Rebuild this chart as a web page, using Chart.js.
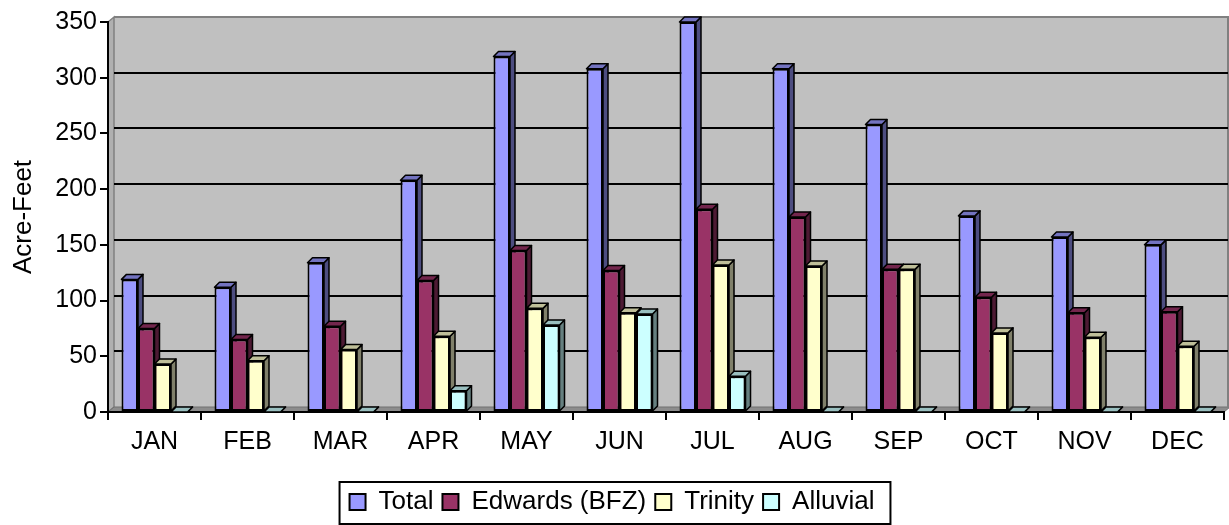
<!DOCTYPE html>
<html>
<head>
<meta charset="utf-8">
<script src="https://cdn.jsdelivr.net/npm/chart.js@4.4.1/dist/chart.umd.min.js"></script>
<style>
  html, body { margin: 0; padding: 0; background: #ffffff; }
  #wrap { width: 1229px; height: 525px; position: relative; }
</style>
</head>
<body>
<div id="wrap"><canvas id="chart"></canvas></div>
<script>
// data (acre-feet per month)
var months = ['JAN', 'FEB', 'MAR', 'APR', 'MAY', 'JUN', 'JUL', 'AUG', 'SEP', 'OCT', 'NOV', 'DEC'];
var total = [119, 112, 134, 208, 319, 308, 350, 308, 258, 176, 157, 150];
var edwards = [75, 65, 77, 118, 145, 127, 182, 175, 128, 103, 89, 90];
var trinity = [43, 46, 56, 68, 93, 89, 132, 131, 128, 71, 67, 59];
var alluvial = [0, 0, 0, 19, 78, 88, 32, 0, 0, 0, 0, 0];
var seriesNames = ['Total', 'Edwards (BFZ)', 'Trinity', 'Alluvial'];
var yTicks = [0, 50, 100, 150, 200, 250, 300, 350];

// colours: front, top, side
var fronts = ['#9999FF', '#993366', '#FFFFCC', '#CCFFFF'];
var tops = ['#7373C0', '#73264D', '#BFBF99', '#99BFBF'];
var sides = ['#4D4D80', '#4D1A33', '#80806A', '#668080'];

var FONT = 'Liberation Sans, Arial, sans-serif';
var DX = 5, DY = 5; // bar depth
var WX = 6, WY = 5; // wall depth
var LEG_PAD = 9;

// back wall, floor, side wall and back gridlines
var wallPlugin = {
  id: 'wall',
  beforeDraw: function(chart) {
    var ctx = chart.ctx, a = chart.chartArea, ys = chart.scales.y;
    ctx.save();
    // back wall
    ctx.fillStyle = '#C0C0C0';
    ctx.fillRect(a.left + WX, a.top - WY, a.right - a.left, a.bottom - a.top);
    // left wall
    ctx.beginPath();
    ctx.moveTo(a.left, a.bottom);
    ctx.lineTo(a.left, a.top);
    ctx.lineTo(a.left + WX, a.top - WY);
    ctx.lineTo(a.left + WX, a.bottom - WY);
    ctx.closePath();
    ctx.fillStyle = '#B0B0B0';
    ctx.fill();
    ctx.strokeStyle = '#808080';
    ctx.lineWidth = 1.5;
    ctx.stroke();
    // floor
    ctx.beginPath();
    ctx.moveTo(a.left, a.bottom);
    ctx.lineTo(a.right, a.bottom);
    ctx.lineTo(a.right + WX, a.bottom - WY);
    ctx.lineTo(a.left + WX, a.bottom - WY);
    ctx.closePath();
    ctx.fillStyle = '#8C8C8C';
    ctx.fill();
    ctx.strokeStyle = '#707070';
    ctx.lineWidth = 1;
    ctx.stroke();
    // wall outline
    ctx.strokeStyle = '#808080';
    ctx.lineWidth = 2;
    ctx.beginPath();
    ctx.moveTo(a.left + WX, a.top - WY);
    ctx.lineTo(a.right + WX - 2, a.top - WY);
    ctx.lineTo(a.right + WX - 2, a.bottom - WY);
    ctx.stroke();
    // gridlines on the back wall
    ctx.strokeStyle = '#000000';
    ctx.lineWidth = 2;
    for (var i = 1; i < yTicks.length - 1; i++) {
      var y = Math.round(ys.getPixelForValue(yTicks[i]) - WY);
      ctx.beginPath();
      ctx.moveTo(a.left + WX, y);
      ctx.lineTo(a.right + WX - 2, y);
      ctx.stroke();
    }
    ctx.restore();
  },
  // top and side faces of each bar, behind the front faces
  beforeDatasetsDraw: function(chart) {
    var ctx = chart.ctx;
    ctx.save();
    ctx.strokeStyle = '#000000';
    ctx.lineWidth = 1.5;
    ctx.lineJoin = 'round';
    for (var i = 0; i < months.length; i++) {
      for (var d = 0; d < chart.data.datasets.length; d++) {
        var bar = chart.getDatasetMeta(d).data[i];
        var p = bar.getProps(['x', 'y', 'base', 'width'], true);
        var x0 = p.x - p.width / 2, x1 = p.x + p.width / 2;
        // side
        ctx.beginPath();
        ctx.moveTo(x1, p.y);
        ctx.lineTo(x1 + DX, p.y - DY);
        ctx.lineTo(x1 + DX, p.base - DY);
        ctx.lineTo(x1, p.base);
        ctx.closePath();
        ctx.fillStyle = sides[d];
        ctx.fill();
        ctx.stroke();
        // top
        ctx.beginPath();
        ctx.moveTo(x0, p.y);
        ctx.lineTo(x0 + DX, p.y - DY);
        ctx.lineTo(x1 + DX, p.y - DY);
        ctx.lineTo(x1, p.y);
        ctx.closePath();
        ctx.fillStyle = tops[d];
        ctx.fill();
        ctx.stroke();
      }
    }
    ctx.restore();
  },
  // frame round the legend
  afterDraw: function(chart) {
    var hb = chart.legend.legendHitBoxes;
    if (!hb || !hb.length) return;
    var l = hb[0].left, r = 0, t = hb[0].top;
    hb.forEach(function(h) {
      l = Math.min(l, h.left);
      r = Math.max(r, h.left + h.width);
      t = Math.min(t, h.top);
    });
    var ctx = chart.ctx;
    ctx.save();
    ctx.strokeStyle = '#000000';
    ctx.lineWidth = 2;
    ctx.strokeRect(l - 10, t - 7, (r + 16) - (l - 10), 524 - (t - 7));
    ctx.restore();
  }
};

var datasets = [total, edwards, trinity, alluvial].map(function(vals, k) {
  return {
    label: seriesNames[k],
    data: vals,
    backgroundColor: fronts[k],
    borderColor: '#000000',
    borderWidth: 2,
    borderSkipped: false,
    categoryPercentage: 0.71,
    barPercentage: 1.0
  };
});

new Chart(document.getElementById('chart'), {
  type: 'bar',
  data: { labels: months, datasets: datasets },
  plugins: [wallPlugin],
  options: {
    responsive: true,
    maintainAspectRatio: false,
    animation: false,
    layout: { padding: { top: 22, right: 5, left: 0, bottom: 0 } },
    plugins: {
      tooltip: { enabled: false },
      legend: {
        position: 'bottom',
        labels: {
          boxWidth: 16,
          boxHeight: 16,
          padding: LEG_PAD,
          color: '#000000',
          font: { family: FONT, size: 26 }
        }
      }
    },
    scales: {
      x: {
        grid: { display: true, drawOnChartArea: false, offset: true, tickLength: 8, tickColor: '#000000', lineWidth: 2 },
        border: { display: true, color: '#000000', width: 2 },
        ticks: { color: '#000000', font: { family: FONT, size: 25 }, padding: 7, maxRotation: 0, autoSkip: false },
        afterFit: function(s) { s.height = 77 - LEG_PAD; }
      },
      y: {
        min: 0,
        max: 350,
        grid: { display: true, drawOnChartArea: false, tickLength: 8, tickColor: '#000000', lineWidth: 2 },
        border: { display: true, color: '#000000', width: 2 },
        ticks: { stepSize: 50, color: '#000000', font: { family: FONT, size: 25 }, padding: 3 },
        title: { display: true, text: 'Acre-Feet', color: '#000000', font: { family: FONT, size: 26 }, padding: { top: 8, bottom: 0 } },
        afterFit: function(s) { s.width = 108; }
      }
    }
  }
});
</script>
</body>
</html>
